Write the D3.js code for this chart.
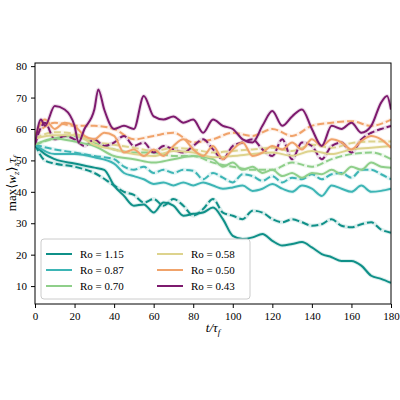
<!DOCTYPE html>
<html><head><meta charset="utf-8">
<script src="https://cdn.jsdelivr.net/npm/d3@7"></script>
<style>body{margin:0;background:#fff}text{font-family:"Liberation Serif","DejaVu Serif",serif}</style>
</head><body><svg id="viz" width="400" height="400"></svg>
<script>
const roLabels = ['Ro = 1.15', 'Ro = 0.87', 'Ro = 0.70', 'Ro = 0.58', 'Ro = 0.50', 'Ro = 0.43'];
const roColors = ['#0f9088', '#3db5b5', '#8fcf8a', '#ddd38d', '#f0a36b', '#7d1a6e'];
const xTicks = [0, 20, 40, 60, 80, 100, 120, 140, 160, 180];
const yTicks = [10, 20, 30, 40, 50, 60, 70, 80];

// solid lines, [t, value]
const solid115 = [[0,55],[5,52],[10,50.4],[20,49],[30,47.7],[35,47],[40,42],[45,38.7],[50,35.6],[55,36],[60,33.4],[65,36.6],[70,35.6],[75,32.4],[80,33],[85,33.4],[90,35],[95,31.3],[100,26],[105,25],[110,25.5],[115,26.6],[120,24.4],[125,22.9],[130,23.4],[135,24],[140,22.3],[145,20.2],[150,19.2],[155,18],[160,18],[165,16.5],[170,13.3],[175,12.3],[180,11]];
const solid087 = [[0,55],[10,52],[20,52],[30,51],[40,49],[45,46],[50,45],[55,44],[60,42.5],[65,43],[70,42],[75,43],[80,42],[85,43],[90,42],[95,41],[100,41.4],[105,42],[110,40.3],[115,41],[120,42.5],[125,41],[130,40],[135,42],[140,41],[145,38.7],[150,42],[155,41],[160,40],[165,42],[170,40],[175,40.3],[180,41]];
const solid070 = [[0,55],[10,57],[20,56],[30,54.6],[40,51.4],[50,50.4],[60,49.3],[70,50.4],[80,51.4],[90,50.4],[95,48],[100,49.3],[105,47],[110,48],[115,46],[120,47],[125,45],[130,46],[135,44.5],[140,46],[145,45.6],[150,47],[155,45.6],[160,48],[165,47],[170,49.3],[175,48],[180,47.7]];
const solid058 = [[0,57],[10,58],[20,58],[30,55],[40,53.5],[50,52],[60,51.4],[70,53],[80,52.5],[90,51],[100,51.4],[110,52],[120,52.5],[130,51.5],[140,53],[150,52],[160,53.5],[170,54],[180,54.6]];
const solid050 = [[0,58],[5,63],[10,60],[15,62],[20,61],[25,57.8],[30,56.7],[35,58.8],[40,57.8],[45,52.5],[50,53.5],[55,51.4],[60,53.5],[65,51.4],[70,54.6],[75,56.7],[80,53.5],[85,51.4],[90,54.6],[95,50.4],[100,53.5],[105,55.7],[110,51.4],[115,52.5],[120,54.6],[125,53.5],[130,55.7],[135,53.5],[140,56.7],[145,54.6],[150,56.7],[155,55.7],[160,53.5],[165,56.2],[170,57.8],[175,56.7],[180,54]];
const solid043 = [[0,55],[3,63],[5,61],[10,67.3],[15,66.2],[20,61],[22,55.7],[25,60],[30,66.2],[32,72.6],[35,66.2],[40,60],[45,61],[50,60],[55,70.5],[60,64],[65,63],[70,64],[75,62],[80,63],[85,58.8],[90,63],[95,61],[100,60],[105,56.7],[110,55.7],[115,61],[120,65.7],[125,61],[130,64],[135,66.2],[140,60],[145,54.6],[150,61],[155,60],[160,62],[165,58.8],[170,61],[175,68.4],[178,70.5],[180,66.2]];

// dashed lines, [t, value]
const dashed115 = [[0,55],[5,50],[10,49],[20,48],[30,46],[40,42],[45,40],[50,39],[55,36.6],[60,37.7],[65,35.6],[70,37.7],[75,35.6],[80,32.4],[85,34.5],[90,37.7],[95,33.4],[100,32.4],[105,31.3],[110,34],[115,33.4],[120,31.3],[125,30.3],[130,31.3],[135,30.3],[140,29.2],[145,29.7],[150,31.3],[155,29.2],[160,28.7],[165,29.7],[170,30.3],[175,28],[180,27]];
const dashed087 = [[0,55],[10,53.5],[20,52.5],[30,51.4],[40,50.4],[45,48],[50,47],[55,48],[60,46],[65,47],[70,46],[75,47],[80,46.7],[85,44],[90,46],[95,44.5],[100,43],[105,45.6],[110,45],[115,43.5],[120,45],[125,43],[130,44.5],[135,44],[140,45.6],[145,44],[150,45.6],[155,46],[160,44.5],[165,47],[170,47],[175,45.6],[180,44]];
const dashed070 = [[0,55],[10,57],[20,57.8],[30,55.7],[40,53.5],[50,52.5],[60,52.5],[70,51.4],[80,51.4],[90,49.3],[100,48],[110,47],[120,47],[130,49.3],[140,48],[150,50.4],[160,52],[170,52.5],[180,50.4]];
const dashed058 = [[0,57],[10,59],[20,58.5],[30,56],[40,55],[50,54],[60,53],[70,54],[80,53.5],[90,52.5],[100,53],[110,53.5],[120,54],[130,53],[140,55],[150,54],[160,55.5],[170,56],[180,56]];
const dashed050 = [[0,58],[10,62],[20,61],[30,61],[40,60],[50,56.7],[60,57.8],[70,58.8],[80,55.7],[90,56.7],[100,58.8],[110,57.8],[120,60],[130,57.8],[140,61],[150,62],[160,62.5],[170,61],[180,63]];
const dashed043 = [[0,55],[5,62],[10,56.7],[15,57.8],[20,56.7],[25,54.6],[30,56.7],[35,54.6],[40,55.7],[45,57.8],[50,54.6],[55,55.7],[60,52.5],[65,54.6],[70,53.5],[75,52.5],[80,54.6],[85,56.7],[90,53.5],[95,50.4],[100,54.6],[105,55.7],[110,56.7],[115,53.5],[120,51.4],[125,56.7],[130,50.4],[135,55.7],[140,54.6],[145,50.4],[150,54.6],[155,55.7],[160,52.5],[165,56.7],[170,58.8],[175,60],[180,61]];

const solidSeries = [solid115, solid087, solid070, solid058, solid050, solid043];
const dashedSeries = [dashed115, dashed087, dashed070, dashed058, dashed050, dashed043];

const mLeft = 35, mRight = 391, mTop = 63, mBottom = 304;
const svg = d3.select('#viz');

let x = d3.scaleLinear().domain([0, 180]).range([mLeft, mRight]);
let y = d3.scaleLinear().domain([4.3, 81]).range([mBottom, mTop]);
let line = d3.line().x(d => x(d[0])).y(d => y(d[1])).curve(d3.curveMonotoneX);

svg.append('defs').append('clipPath').attr('id', 'clip')
    .append('rect').attr('x', mLeft).attr('y', mTop).attr('width', mRight - mLeft).attr('height', mBottom - mTop);
const plot = svg.append('g').attr('clip-path', 'url(#clip)');

// faint halo standing in for the raw signal
[...dashedSeries, ...solidSeries].forEach((s, i) => {
    plot.append('path').attr('d', line(s)).attr('fill', 'none')
        .attr('stroke', roColors[i % 6]).attr('stroke-width', 4).attr('opacity', 0.15);
});
dashedSeries.forEach((s, i) => {
    plot.append('path').attr('d', line(s)).attr('fill', 'none')
        .attr('stroke', roColors[i]).attr('stroke-width', 2).attr('stroke-dasharray', '7,3');
});
solidSeries.forEach((s, i) => {
    plot.append('path').attr('d', line(s)).attr('fill', 'none')
        .attr('stroke', roColors[i]).attr('stroke-width', 2);
});

svg.append('g').attr('transform', `translate(0,${mBottom})`)
    .call(d3.axisBottom(x).tickValues(xTicks).tickSize(4).tickPadding(4))
    .call(g => g.selectAll('text').attr('font-size', 11).attr('fill', '#000'));
svg.append('g').attr('transform', `translate(${mLeft},0)`)
    .call(d3.axisLeft(y).tickValues(yTicks).tickSize(4).tickPadding(4))
    .call(g => g.selectAll('text').attr('font-size', 11).attr('fill', '#000'));
svg.selectAll('.domain').remove();
svg.append('rect').attr('x', mLeft).attr('y', mTop).attr('width', mRight - mLeft).attr('height', mBottom - mTop)
    .attr('fill', 'none').attr('stroke', '#000').attr('stroke-width', 1);

const xl = svg.append('text').attr('x', (mLeft + mRight) / 2).attr('y', 332).attr('text-anchor', 'middle')
    .attr('font-size', 13).attr('font-style', 'italic');
xl.append('tspan').text('t/τ');
xl.append('tspan').attr('font-size', 9).attr('dy', 3).text('f');

const yl = svg.append('text').attr('transform', `translate(16,${(mTop + mBottom) / 2}) rotate(-90)`)
    .attr('text-anchor', 'middle').attr('font-size', 13);
yl.append('tspan').text('max⟨');
yl.append('tspan').attr('font-style', 'italic').text('w');
yl.append('tspan').attr('font-size', 9).attr('dy', 3).attr('font-style', 'italic').text('z');
yl.append('tspan').attr('dy', -3).text('⟩');
yl.append('tspan').attr('font-size', 9).attr('dy', 3).attr('font-style', 'italic').text('z');
yl.append('tspan').attr('dy', -3).attr('font-style', 'italic').text('τ');
yl.append('tspan').attr('font-size', 9).attr('dy', 3).attr('font-style', 'italic').text('f');

const lg = svg.append('g');
lg.append('rect').attr('x', 41).attr('y', 239).attr('width', 209).attr('height', 60).attr('rx', 3)
    .attr('fill', 'rgba(255,255,255,0.85)').attr('stroke', '#ccc');
roLabels.forEach((lab, i) => {
    const cx = 46 + Math.floor(i / 3) * 111, cy = 254 + (i % 3) * 16;
    lg.append('line').attr('x1', cx).attr('x2', cx + 26).attr('y1', cy).attr('y2', cy)
        .attr('stroke', roColors[i]).attr('stroke-width', 2);
    lg.append('text').attr('x', cx + 34).attr('y', cy + 4).attr('font-size', 11).text(lab);
});
</script></body></html>
